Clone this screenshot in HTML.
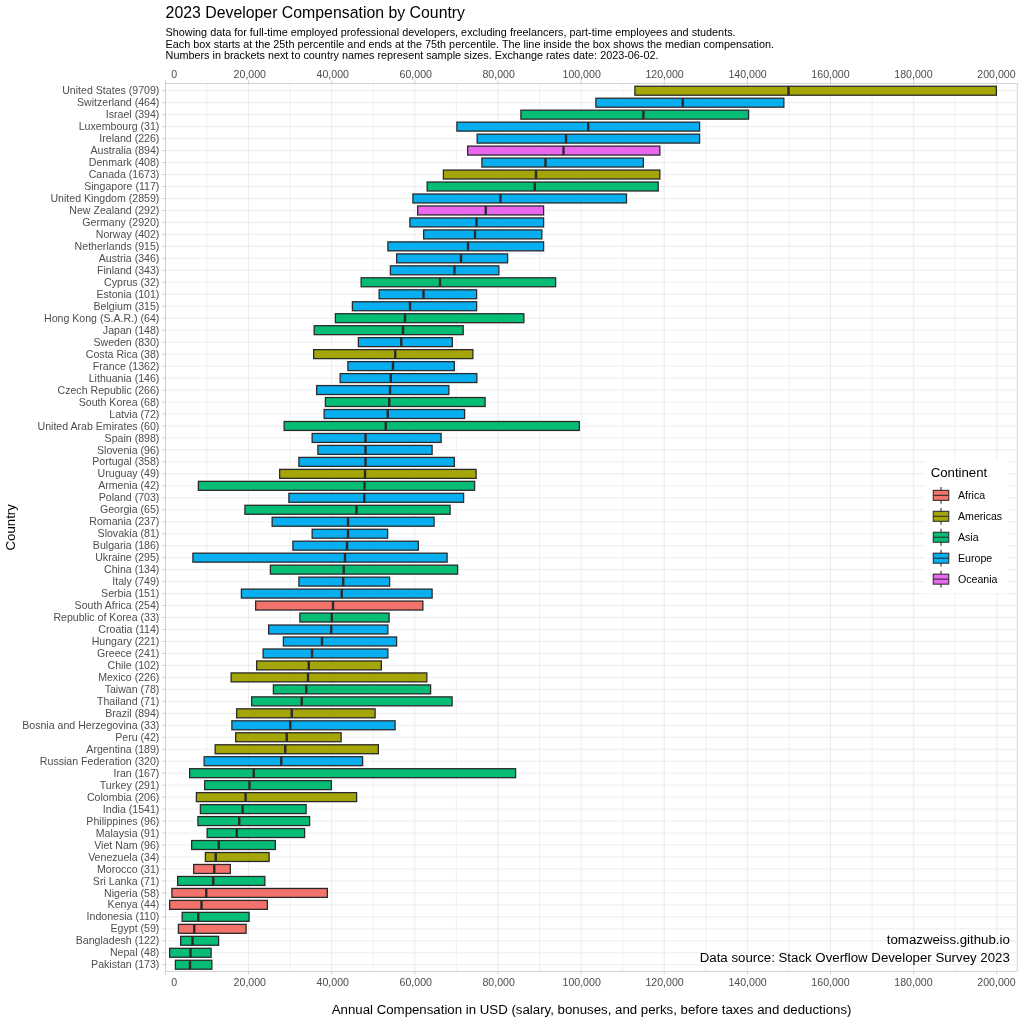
<!DOCTYPE html>
<html lang="en"><head><meta charset="utf-8"><title>2023 Developer Compensation by Country</title>
<style>html,body{margin:0;padding:0;background:#fff}body{width:1024px;height:1024px;overflow:hidden}svg{display:block}text{font-family:"Liberation Sans",sans-serif}.ax{font-size:10.6px;fill:#4d4d4d}.yl{text-anchor:end}.xl{text-anchor:middle}.sub{font-size:10.84px;fill:#000}.cap{font-size:13.25px;fill:#000;text-anchor:end}.lg{font-size:10.6px;fill:#000}.gM{stroke:#e1e1e1;stroke-width:.6}.gm{stroke:#e3e3e3;stroke-width:.5}.tk{stroke:#b3b3b3;stroke-width:.6}.bx{stroke:#2a2a2a;stroke-width:1.3}.md{stroke:#2a2a2a;stroke-width:2.4}.lk{stroke:#2a2a2a;stroke-width:1.05}</style></head><body>
<svg width="1024" height="1024" viewBox="0 0 1024 1024">
<rect width="1024" height="1024" fill="#fff"/>
<text x="165.6" y="18.2" font-size="15.85" fill="#000">2023 Developer Compensation by Country</text>
<text class="sub" x="165.6" y="35.90">Showing data for full-time employed professional developers, excluding freelancers, part-time employees and students.</text>
<text class="sub" x="165.6" y="47.60">Each box starts at the 25th percentile and ends at the 75th percentile. The line inside the box shows the median compensation.</text>
<text class="sub" x="165.6" y="59.30">Numbers in brackets next to country names represent sample sizes. Exchange rates date: 2023-06-02.</text>
<g>
<line class="gm" x1="206.97" x2="206.97" y1="83.55" y2="971.35"/>
<line class="gM" x1="248.54" x2="248.54" y1="83.55" y2="971.35"/>
<line class="gm" x1="290.11" x2="290.11" y1="83.55" y2="971.35"/>
<line class="gM" x1="331.68" x2="331.68" y1="83.55" y2="971.35"/>
<line class="gm" x1="373.25" x2="373.25" y1="83.55" y2="971.35"/>
<line class="gM" x1="414.82" x2="414.82" y1="83.55" y2="971.35"/>
<line class="gm" x1="456.39" x2="456.39" y1="83.55" y2="971.35"/>
<line class="gM" x1="497.96" x2="497.96" y1="83.55" y2="971.35"/>
<line class="gm" x1="539.53" x2="539.53" y1="83.55" y2="971.35"/>
<line class="gM" x1="581.10" x2="581.10" y1="83.55" y2="971.35"/>
<line class="gm" x1="622.67" x2="622.67" y1="83.55" y2="971.35"/>
<line class="gM" x1="664.24" x2="664.24" y1="83.55" y2="971.35"/>
<line class="gm" x1="705.81" x2="705.81" y1="83.55" y2="971.35"/>
<line class="gM" x1="747.38" x2="747.38" y1="83.55" y2="971.35"/>
<line class="gm" x1="788.95" x2="788.95" y1="83.55" y2="971.35"/>
<line class="gM" x1="830.52" x2="830.52" y1="83.55" y2="971.35"/>
<line class="gm" x1="872.09" x2="872.09" y1="83.55" y2="971.35"/>
<line class="gM" x1="913.66" x2="913.66" y1="83.55" y2="971.35"/>
<line class="gm" x1="955.23" x2="955.23" y1="83.55" y2="971.35"/>
<line class="gM" x1="996.80" x2="996.80" y1="83.55" y2="971.35"/>
<line class="gM" x1="165.5" x2="1017.25" y1="90.72" y2="90.72"/>
<line class="gM" x1="165.5" x2="1017.25" y1="102.69" y2="102.69"/>
<line class="gM" x1="165.5" x2="1017.25" y1="114.67" y2="114.67"/>
<line class="gM" x1="165.5" x2="1017.25" y1="126.64" y2="126.64"/>
<line class="gM" x1="165.5" x2="1017.25" y1="138.61" y2="138.61"/>
<line class="gM" x1="165.5" x2="1017.25" y1="150.59" y2="150.59"/>
<line class="gM" x1="165.5" x2="1017.25" y1="162.56" y2="162.56"/>
<line class="gM" x1="165.5" x2="1017.25" y1="174.53" y2="174.53"/>
<line class="gM" x1="165.5" x2="1017.25" y1="186.50" y2="186.50"/>
<line class="gM" x1="165.5" x2="1017.25" y1="198.48" y2="198.48"/>
<line class="gM" x1="165.5" x2="1017.25" y1="210.45" y2="210.45"/>
<line class="gM" x1="165.5" x2="1017.25" y1="222.42" y2="222.42"/>
<line class="gM" x1="165.5" x2="1017.25" y1="234.40" y2="234.40"/>
<line class="gM" x1="165.5" x2="1017.25" y1="246.37" y2="246.37"/>
<line class="gM" x1="165.5" x2="1017.25" y1="258.34" y2="258.34"/>
<line class="gM" x1="165.5" x2="1017.25" y1="270.31" y2="270.31"/>
<line class="gM" x1="165.5" x2="1017.25" y1="282.29" y2="282.29"/>
<line class="gM" x1="165.5" x2="1017.25" y1="294.26" y2="294.26"/>
<line class="gM" x1="165.5" x2="1017.25" y1="306.23" y2="306.23"/>
<line class="gM" x1="165.5" x2="1017.25" y1="318.21" y2="318.21"/>
<line class="gM" x1="165.5" x2="1017.25" y1="330.18" y2="330.18"/>
<line class="gM" x1="165.5" x2="1017.25" y1="342.15" y2="342.15"/>
<line class="gM" x1="165.5" x2="1017.25" y1="354.13" y2="354.13"/>
<line class="gM" x1="165.5" x2="1017.25" y1="366.10" y2="366.10"/>
<line class="gM" x1="165.5" x2="1017.25" y1="378.07" y2="378.07"/>
<line class="gM" x1="165.5" x2="1017.25" y1="390.05" y2="390.05"/>
<line class="gM" x1="165.5" x2="1017.25" y1="402.02" y2="402.02"/>
<line class="gM" x1="165.5" x2="1017.25" y1="413.99" y2="413.99"/>
<line class="gM" x1="165.5" x2="1017.25" y1="425.96" y2="425.96"/>
<line class="gM" x1="165.5" x2="1017.25" y1="437.94" y2="437.94"/>
<line class="gM" x1="165.5" x2="1017.25" y1="449.91" y2="449.91"/>
<line class="gM" x1="165.5" x2="1017.25" y1="461.88" y2="461.88"/>
<line class="gM" x1="165.5" x2="1017.25" y1="473.86" y2="473.86"/>
<line class="gM" x1="165.5" x2="1017.25" y1="485.83" y2="485.83"/>
<line class="gM" x1="165.5" x2="1017.25" y1="497.80" y2="497.80"/>
<line class="gM" x1="165.5" x2="1017.25" y1="509.77" y2="509.77"/>
<line class="gM" x1="165.5" x2="1017.25" y1="521.75" y2="521.75"/>
<line class="gM" x1="165.5" x2="1017.25" y1="533.72" y2="533.72"/>
<line class="gM" x1="165.5" x2="1017.25" y1="545.69" y2="545.69"/>
<line class="gM" x1="165.5" x2="1017.25" y1="557.67" y2="557.67"/>
<line class="gM" x1="165.5" x2="1017.25" y1="569.64" y2="569.64"/>
<line class="gM" x1="165.5" x2="1017.25" y1="581.61" y2="581.61"/>
<line class="gM" x1="165.5" x2="1017.25" y1="593.59" y2="593.59"/>
<line class="gM" x1="165.5" x2="1017.25" y1="605.56" y2="605.56"/>
<line class="gM" x1="165.5" x2="1017.25" y1="617.53" y2="617.53"/>
<line class="gM" x1="165.5" x2="1017.25" y1="629.51" y2="629.51"/>
<line class="gM" x1="165.5" x2="1017.25" y1="641.48" y2="641.48"/>
<line class="gM" x1="165.5" x2="1017.25" y1="653.45" y2="653.45"/>
<line class="gM" x1="165.5" x2="1017.25" y1="665.42" y2="665.42"/>
<line class="gM" x1="165.5" x2="1017.25" y1="677.40" y2="677.40"/>
<line class="gM" x1="165.5" x2="1017.25" y1="689.37" y2="689.37"/>
<line class="gM" x1="165.5" x2="1017.25" y1="701.34" y2="701.34"/>
<line class="gM" x1="165.5" x2="1017.25" y1="713.32" y2="713.32"/>
<line class="gM" x1="165.5" x2="1017.25" y1="725.29" y2="725.29"/>
<line class="gM" x1="165.5" x2="1017.25" y1="737.26" y2="737.26"/>
<line class="gM" x1="165.5" x2="1017.25" y1="749.24" y2="749.24"/>
<line class="gM" x1="165.5" x2="1017.25" y1="761.21" y2="761.21"/>
<line class="gM" x1="165.5" x2="1017.25" y1="773.18" y2="773.18"/>
<line class="gM" x1="165.5" x2="1017.25" y1="785.15" y2="785.15"/>
<line class="gM" x1="165.5" x2="1017.25" y1="797.13" y2="797.13"/>
<line class="gM" x1="165.5" x2="1017.25" y1="809.10" y2="809.10"/>
<line class="gM" x1="165.5" x2="1017.25" y1="821.07" y2="821.07"/>
<line class="gM" x1="165.5" x2="1017.25" y1="833.05" y2="833.05"/>
<line class="gM" x1="165.5" x2="1017.25" y1="845.02" y2="845.02"/>
<line class="gM" x1="165.5" x2="1017.25" y1="856.99" y2="856.99"/>
<line class="gM" x1="165.5" x2="1017.25" y1="868.97" y2="868.97"/>
<line class="gM" x1="165.5" x2="1017.25" y1="880.94" y2="880.94"/>
<line class="gM" x1="165.5" x2="1017.25" y1="892.91" y2="892.91"/>
<line class="gM" x1="165.5" x2="1017.25" y1="904.88" y2="904.88"/>
<line class="gM" x1="165.5" x2="1017.25" y1="916.86" y2="916.86"/>
<line class="gM" x1="165.5" x2="1017.25" y1="928.83" y2="928.83"/>
<line class="gM" x1="165.5" x2="1017.25" y1="940.80" y2="940.80"/>
<line class="gM" x1="165.5" x2="1017.25" y1="952.78" y2="952.78"/>
<line class="gM" x1="165.5" x2="1017.25" y1="964.75" y2="964.75"/>
</g>
<g>
<rect class="bx" x="634.90" y="86.25" width="361.45" height="8.95" fill="#A3A606"/>
<line class="md" x1="788.50" x2="788.50" y1="86.25" y2="95.19"/>
<rect class="bx" x="595.90" y="98.22" width="187.95" height="8.95" fill="#08AFF0"/>
<line class="md" x1="682.75" x2="682.75" y1="98.22" y2="107.17"/>
<rect class="bx" x="520.90" y="110.19" width="227.70" height="8.95" fill="#06BD76"/>
<line class="md" x1="643.40" x2="643.40" y1="110.19" y2="119.14"/>
<rect class="bx" x="456.90" y="122.16" width="242.70" height="8.95" fill="#08AFF0"/>
<line class="md" x1="588.25" x2="588.25" y1="122.16" y2="131.11"/>
<rect class="bx" x="477.15" y="134.14" width="222.45" height="8.95" fill="#08AFF0"/>
<line class="md" x1="566.00" x2="566.00" y1="134.14" y2="143.09"/>
<rect class="bx" x="467.65" y="146.11" width="192.20" height="8.95" fill="#EA67EF"/>
<line class="md" x1="563.50" x2="563.50" y1="146.11" y2="155.06"/>
<rect class="bx" x="481.90" y="158.08" width="161.45" height="8.95" fill="#08AFF0"/>
<line class="md" x1="545.50" x2="545.50" y1="158.08" y2="167.03"/>
<rect class="bx" x="443.40" y="170.06" width="216.45" height="8.95" fill="#A3A606"/>
<line class="md" x1="536.00" x2="536.00" y1="170.06" y2="179.01"/>
<rect class="bx" x="427.15" y="182.03" width="231.05" height="8.95" fill="#06BD76"/>
<line class="md" x1="534.75" x2="534.75" y1="182.03" y2="190.98"/>
<rect class="bx" x="412.90" y="194.00" width="213.60" height="8.95" fill="#08AFF0"/>
<line class="md" x1="500.50" x2="500.50" y1="194.00" y2="202.95"/>
<rect class="bx" x="417.65" y="205.97" width="125.95" height="8.95" fill="#EA67EF"/>
<line class="md" x1="485.75" x2="485.75" y1="205.97" y2="214.92"/>
<rect class="bx" x="409.90" y="217.95" width="133.70" height="8.95" fill="#08AFF0"/>
<line class="md" x1="476.50" x2="476.50" y1="217.95" y2="226.90"/>
<rect class="bx" x="423.65" y="229.92" width="118.20" height="8.95" fill="#08AFF0"/>
<line class="md" x1="475.00" x2="475.00" y1="229.92" y2="238.87"/>
<rect class="bx" x="387.90" y="241.89" width="155.70" height="8.95" fill="#08AFF0"/>
<line class="md" x1="468.00" x2="468.00" y1="241.89" y2="250.84"/>
<rect class="bx" x="396.65" y="253.87" width="110.95" height="8.95" fill="#08AFF0"/>
<line class="md" x1="461.00" x2="461.00" y1="253.87" y2="262.82"/>
<rect class="bx" x="390.40" y="265.84" width="108.45" height="8.95" fill="#08AFF0"/>
<line class="md" x1="454.50" x2="454.50" y1="265.84" y2="274.79"/>
<rect class="bx" x="361.15" y="277.81" width="194.45" height="8.95" fill="#06BD76"/>
<line class="md" x1="440.00" x2="440.00" y1="277.81" y2="286.76"/>
<rect class="bx" x="379.15" y="289.79" width="97.45" height="8.95" fill="#08AFF0"/>
<line class="md" x1="423.50" x2="423.50" y1="289.79" y2="298.74"/>
<rect class="bx" x="352.40" y="301.76" width="124.20" height="8.95" fill="#08AFF0"/>
<line class="md" x1="410.00" x2="410.00" y1="301.76" y2="310.71"/>
<rect class="bx" x="335.40" y="313.73" width="188.45" height="8.95" fill="#06BD76"/>
<line class="md" x1="405.00" x2="405.00" y1="313.73" y2="322.68"/>
<rect class="bx" x="314.15" y="325.70" width="149.05" height="8.95" fill="#06BD76"/>
<line class="md" x1="403.00" x2="403.00" y1="325.70" y2="334.66"/>
<rect class="bx" x="358.40" y="337.68" width="93.95" height="8.95" fill="#08AFF0"/>
<line class="md" x1="401.25" x2="401.25" y1="337.68" y2="346.63"/>
<rect class="bx" x="313.65" y="349.65" width="159.20" height="8.95" fill="#A3A606"/>
<line class="md" x1="395.25" x2="395.25" y1="349.65" y2="358.60"/>
<rect class="bx" x="347.90" y="361.62" width="106.45" height="8.95" fill="#08AFF0"/>
<line class="md" x1="393.00" x2="393.00" y1="361.62" y2="370.57"/>
<rect class="bx" x="340.15" y="373.60" width="136.70" height="8.95" fill="#08AFF0"/>
<line class="md" x1="390.75" x2="390.75" y1="373.60" y2="382.55"/>
<rect class="bx" x="316.65" y="385.57" width="132.20" height="8.95" fill="#08AFF0"/>
<line class="md" x1="390.00" x2="390.00" y1="385.57" y2="394.52"/>
<rect class="bx" x="325.40" y="397.54" width="159.70" height="8.95" fill="#06BD76"/>
<line class="md" x1="389.25" x2="389.25" y1="397.54" y2="406.49"/>
<rect class="bx" x="324.15" y="409.52" width="140.45" height="8.95" fill="#08AFF0"/>
<line class="md" x1="387.75" x2="387.75" y1="409.52" y2="418.47"/>
<rect class="bx" x="284.15" y="421.49" width="295.20" height="8.95" fill="#06BD76"/>
<line class="md" x1="385.75" x2="385.75" y1="421.49" y2="430.44"/>
<rect class="bx" x="312.15" y="433.46" width="128.95" height="8.95" fill="#08AFF0"/>
<line class="md" x1="365.50" x2="365.50" y1="433.46" y2="442.41"/>
<rect class="bx" x="317.90" y="445.43" width="114.20" height="8.95" fill="#08AFF0"/>
<line class="md" x1="365.50" x2="365.50" y1="445.43" y2="454.38"/>
<rect class="bx" x="298.90" y="457.41" width="155.45" height="8.95" fill="#08AFF0"/>
<line class="md" x1="365.50" x2="365.50" y1="457.41" y2="466.36"/>
<rect class="bx" x="279.65" y="469.38" width="196.45" height="8.95" fill="#A3A606"/>
<line class="md" x1="365.00" x2="365.00" y1="469.38" y2="478.33"/>
<rect class="bx" x="198.40" y="481.35" width="276.20" height="8.95" fill="#06BD76"/>
<line class="md" x1="364.50" x2="364.50" y1="481.35" y2="490.30"/>
<rect class="bx" x="288.90" y="493.33" width="174.70" height="8.95" fill="#08AFF0"/>
<line class="md" x1="364.25" x2="364.25" y1="493.33" y2="502.28"/>
<rect class="bx" x="244.90" y="505.30" width="205.20" height="8.95" fill="#06BD76"/>
<line class="md" x1="356.50" x2="356.50" y1="505.30" y2="514.25"/>
<rect class="bx" x="272.15" y="517.27" width="161.95" height="8.95" fill="#08AFF0"/>
<line class="md" x1="348.00" x2="348.00" y1="517.27" y2="526.22"/>
<rect class="bx" x="312.15" y="529.25" width="75.45" height="8.95" fill="#08AFF0"/>
<line class="md" x1="348.00" x2="348.00" y1="529.25" y2="538.20"/>
<rect class="bx" x="292.90" y="541.22" width="125.45" height="8.95" fill="#08AFF0"/>
<line class="md" x1="347.00" x2="347.00" y1="541.22" y2="550.17"/>
<rect class="bx" x="192.90" y="553.19" width="254.20" height="8.95" fill="#08AFF0"/>
<line class="md" x1="345.00" x2="345.00" y1="553.19" y2="562.14"/>
<rect class="bx" x="270.40" y="565.16" width="187.20" height="8.95" fill="#06BD76"/>
<line class="md" x1="343.75" x2="343.75" y1="565.16" y2="574.12"/>
<rect class="bx" x="298.90" y="577.14" width="90.70" height="8.95" fill="#08AFF0"/>
<line class="md" x1="343.25" x2="343.25" y1="577.14" y2="586.09"/>
<rect class="bx" x="241.40" y="589.11" width="190.70" height="8.95" fill="#08AFF0"/>
<line class="md" x1="341.75" x2="341.75" y1="589.11" y2="598.06"/>
<rect class="bx" x="255.65" y="601.08" width="167.20" height="8.95" fill="#F4726C"/>
<line class="md" x1="333.00" x2="333.00" y1="601.08" y2="610.03"/>
<rect class="bx" x="299.90" y="613.06" width="89.20" height="8.95" fill="#06BD76"/>
<line class="md" x1="331.75" x2="331.75" y1="613.06" y2="622.01"/>
<rect class="bx" x="268.65" y="625.03" width="119.20" height="8.95" fill="#08AFF0"/>
<line class="md" x1="331.25" x2="331.25" y1="625.03" y2="633.98"/>
<rect class="bx" x="283.40" y="637.00" width="113.20" height="8.95" fill="#08AFF0"/>
<line class="md" x1="322.00" x2="322.00" y1="637.00" y2="645.95"/>
<rect class="bx" x="263.15" y="648.98" width="124.70" height="8.95" fill="#08AFF0"/>
<line class="md" x1="312.00" x2="312.00" y1="648.98" y2="657.93"/>
<rect class="bx" x="256.65" y="660.95" width="124.70" height="8.95" fill="#A3A606"/>
<line class="md" x1="308.75" x2="308.75" y1="660.95" y2="669.90"/>
<rect class="bx" x="231.15" y="672.92" width="195.70" height="8.95" fill="#A3A606"/>
<line class="md" x1="308.00" x2="308.00" y1="672.92" y2="681.87"/>
<rect class="bx" x="273.40" y="684.90" width="157.20" height="8.95" fill="#06BD76"/>
<line class="md" x1="306.25" x2="306.25" y1="684.90" y2="693.85"/>
<rect class="bx" x="251.65" y="696.87" width="200.45" height="8.95" fill="#06BD76"/>
<line class="md" x1="301.75" x2="301.75" y1="696.87" y2="705.82"/>
<rect class="bx" x="236.65" y="708.84" width="138.45" height="8.95" fill="#A3A606"/>
<line class="md" x1="291.75" x2="291.75" y1="708.84" y2="717.79"/>
<rect class="bx" x="231.90" y="720.81" width="163.20" height="8.95" fill="#08AFF0"/>
<line class="md" x1="290.25" x2="290.25" y1="720.81" y2="729.76"/>
<rect class="bx" x="235.65" y="732.79" width="105.45" height="8.95" fill="#A3A606"/>
<line class="md" x1="286.75" x2="286.75" y1="732.79" y2="741.74"/>
<rect class="bx" x="215.15" y="744.76" width="163.20" height="8.95" fill="#A3A606"/>
<line class="md" x1="285.25" x2="285.25" y1="744.76" y2="753.71"/>
<rect class="bx" x="204.15" y="756.73" width="158.45" height="8.95" fill="#08AFF0"/>
<line class="md" x1="281.25" x2="281.25" y1="756.73" y2="765.68"/>
<rect class="bx" x="189.65" y="768.71" width="325.95" height="8.95" fill="#06BD76"/>
<line class="md" x1="253.75" x2="253.75" y1="768.71" y2="777.66"/>
<rect class="bx" x="204.65" y="780.68" width="126.70" height="8.95" fill="#06BD76"/>
<line class="md" x1="249.50" x2="249.50" y1="780.68" y2="789.63"/>
<rect class="bx" x="196.40" y="792.65" width="160.20" height="8.95" fill="#A3A606"/>
<line class="md" x1="245.60" x2="245.60" y1="792.65" y2="801.60"/>
<rect class="bx" x="200.40" y="804.62" width="105.70" height="8.95" fill="#06BD76"/>
<line class="md" x1="242.60" x2="242.60" y1="804.62" y2="813.58"/>
<rect class="bx" x="197.90" y="816.60" width="111.70" height="8.95" fill="#06BD76"/>
<line class="md" x1="239.25" x2="239.25" y1="816.60" y2="825.55"/>
<rect class="bx" x="207.15" y="828.57" width="97.45" height="8.95" fill="#06BD76"/>
<line class="md" x1="236.75" x2="236.75" y1="828.57" y2="837.52"/>
<rect class="bx" x="191.65" y="840.54" width="83.70" height="8.95" fill="#06BD76"/>
<line class="md" x1="218.75" x2="218.75" y1="840.54" y2="849.49"/>
<rect class="bx" x="205.40" y="852.52" width="63.70" height="8.95" fill="#A3A606"/>
<line class="md" x1="215.75" x2="215.75" y1="852.52" y2="861.47"/>
<rect class="bx" x="193.65" y="864.49" width="36.70" height="8.95" fill="#F4726C"/>
<line class="md" x1="214.25" x2="214.25" y1="864.49" y2="873.44"/>
<rect class="bx" x="177.65" y="876.46" width="87.20" height="8.95" fill="#06BD76"/>
<line class="md" x1="213.25" x2="213.25" y1="876.46" y2="885.41"/>
<rect class="bx" x="171.90" y="888.44" width="155.45" height="8.95" fill="#F4726C"/>
<line class="md" x1="206.25" x2="206.25" y1="888.44" y2="897.39"/>
<rect class="bx" x="169.65" y="900.41" width="97.70" height="8.95" fill="#F4726C"/>
<line class="md" x1="201.50" x2="201.50" y1="900.41" y2="909.36"/>
<rect class="bx" x="182.15" y="912.38" width="66.95" height="8.95" fill="#06BD76"/>
<line class="md" x1="198.25" x2="198.25" y1="912.38" y2="921.33"/>
<rect class="bx" x="178.40" y="924.36" width="67.70" height="8.95" fill="#F4726C"/>
<line class="md" x1="194.25" x2="194.25" y1="924.36" y2="933.31"/>
<rect class="bx" x="180.65" y="936.33" width="37.95" height="8.95" fill="#06BD76"/>
<line class="md" x1="192.50" x2="192.50" y1="936.33" y2="945.28"/>
<rect class="bx" x="169.65" y="948.30" width="41.45" height="8.95" fill="#06BD76"/>
<line class="md" x1="190.50" x2="190.50" y1="948.30" y2="957.25"/>
<rect class="bx" x="175.40" y="960.27" width="36.45" height="8.95" fill="#06BD76"/>
<line class="md" x1="190.00" x2="190.00" y1="960.27" y2="969.22"/>
</g>
<rect x="924" y="461" width="84" height="132.5" fill="#fff"/>
<text x="930.7" y="477.2" font-size="13.2" fill="#000">Continent</text>
<line class="lk" x1="941.0" x2="941.0" y1="486.95" y2="503.75"/>
<rect class="lk" x="933.25" y="490.35" width="15.5" height="10.0" fill="#F4726C"/>
<line class="lk" x1="933.25" x2="948.75" y1="495.35" y2="495.35"/>
<text class="lg" x="958" y="499.00">Africa</text>
<line class="lk" x1="941.0" x2="941.0" y1="507.90" y2="524.70"/>
<rect class="lk" x="933.25" y="511.30" width="15.5" height="10.0" fill="#A3A606"/>
<line class="lk" x1="933.25" x2="948.75" y1="516.30" y2="516.30"/>
<text class="lg" x="958" y="519.95">Americas</text>
<line class="lk" x1="941.0" x2="941.0" y1="528.85" y2="545.65"/>
<rect class="lk" x="933.25" y="532.25" width="15.5" height="10.0" fill="#06BD76"/>
<line class="lk" x1="933.25" x2="948.75" y1="537.25" y2="537.25"/>
<text class="lg" x="958" y="540.90">Asia</text>
<line class="lk" x1="941.0" x2="941.0" y1="549.80" y2="566.60"/>
<rect class="lk" x="933.25" y="553.20" width="15.5" height="10.0" fill="#08AFF0"/>
<line class="lk" x1="933.25" x2="948.75" y1="558.20" y2="558.20"/>
<text class="lg" x="958" y="561.85">Europe</text>
<line class="lk" x1="941.0" x2="941.0" y1="570.75" y2="587.55"/>
<rect class="lk" x="933.25" y="574.15" width="15.5" height="10.0" fill="#EA67EF"/>
<line class="lk" x1="933.25" x2="948.75" y1="579.15" y2="579.15"/>
<text class="lg" x="958" y="582.80">Oceania</text>
<text class="cap" x="1009.8" y="943.6">tomazweiss.github.io</text>
<text class="cap" x="1009.8" y="961.6">Data source: Stack Overflow Developer Survey 2023</text>
<rect x="165.5" y="83.55" width="851.75" height="887.8000000000001" fill="none" stroke="#c8c8c8" stroke-width="0.8"/>
<g>
<line class="tk" x1="162.2" x2="165.5" y1="90.72" y2="90.72"/>
<text class="ax yl" x="159.4" y="94.32">United States (9709)</text>
<line class="tk" x1="162.2" x2="165.5" y1="102.69" y2="102.69"/>
<text class="ax yl" x="159.4" y="106.29">Switzerland (464)</text>
<line class="tk" x1="162.2" x2="165.5" y1="114.67" y2="114.67"/>
<text class="ax yl" x="159.4" y="118.27">Israel (394)</text>
<line class="tk" x1="162.2" x2="165.5" y1="126.64" y2="126.64"/>
<text class="ax yl" x="159.4" y="130.24">Luxembourg (31)</text>
<line class="tk" x1="162.2" x2="165.5" y1="138.61" y2="138.61"/>
<text class="ax yl" x="159.4" y="142.21">Ireland (226)</text>
<line class="tk" x1="162.2" x2="165.5" y1="150.59" y2="150.59"/>
<text class="ax yl" x="159.4" y="154.19">Australia (894)</text>
<line class="tk" x1="162.2" x2="165.5" y1="162.56" y2="162.56"/>
<text class="ax yl" x="159.4" y="166.16">Denmark (408)</text>
<line class="tk" x1="162.2" x2="165.5" y1="174.53" y2="174.53"/>
<text class="ax yl" x="159.4" y="178.13">Canada (1673)</text>
<line class="tk" x1="162.2" x2="165.5" y1="186.50" y2="186.50"/>
<text class="ax yl" x="159.4" y="190.10">Singapore (117)</text>
<line class="tk" x1="162.2" x2="165.5" y1="198.48" y2="198.48"/>
<text class="ax yl" x="159.4" y="202.08">United Kingdom (2859)</text>
<line class="tk" x1="162.2" x2="165.5" y1="210.45" y2="210.45"/>
<text class="ax yl" x="159.4" y="214.05">New Zealand (292)</text>
<line class="tk" x1="162.2" x2="165.5" y1="222.42" y2="222.42"/>
<text class="ax yl" x="159.4" y="226.02">Germany (2920)</text>
<line class="tk" x1="162.2" x2="165.5" y1="234.40" y2="234.40"/>
<text class="ax yl" x="159.4" y="238.00">Norway (402)</text>
<line class="tk" x1="162.2" x2="165.5" y1="246.37" y2="246.37"/>
<text class="ax yl" x="159.4" y="249.97">Netherlands (915)</text>
<line class="tk" x1="162.2" x2="165.5" y1="258.34" y2="258.34"/>
<text class="ax yl" x="159.4" y="261.94">Austria (346)</text>
<line class="tk" x1="162.2" x2="165.5" y1="270.31" y2="270.31"/>
<text class="ax yl" x="159.4" y="273.92">Finland (343)</text>
<line class="tk" x1="162.2" x2="165.5" y1="282.29" y2="282.29"/>
<text class="ax yl" x="159.4" y="285.89">Cyprus (32)</text>
<line class="tk" x1="162.2" x2="165.5" y1="294.26" y2="294.26"/>
<text class="ax yl" x="159.4" y="297.86">Estonia (101)</text>
<line class="tk" x1="162.2" x2="165.5" y1="306.23" y2="306.23"/>
<text class="ax yl" x="159.4" y="309.83">Belgium (315)</text>
<line class="tk" x1="162.2" x2="165.5" y1="318.21" y2="318.21"/>
<text class="ax yl" x="159.4" y="321.81">Hong Kong (S.A.R.) (64)</text>
<line class="tk" x1="162.2" x2="165.5" y1="330.18" y2="330.18"/>
<text class="ax yl" x="159.4" y="333.78">Japan (148)</text>
<line class="tk" x1="162.2" x2="165.5" y1="342.15" y2="342.15"/>
<text class="ax yl" x="159.4" y="345.75">Sweden (830)</text>
<line class="tk" x1="162.2" x2="165.5" y1="354.13" y2="354.13"/>
<text class="ax yl" x="159.4" y="357.73">Costa Rica (38)</text>
<line class="tk" x1="162.2" x2="165.5" y1="366.10" y2="366.10"/>
<text class="ax yl" x="159.4" y="369.70">France (1362)</text>
<line class="tk" x1="162.2" x2="165.5" y1="378.07" y2="378.07"/>
<text class="ax yl" x="159.4" y="381.67">Lithuania (146)</text>
<line class="tk" x1="162.2" x2="165.5" y1="390.05" y2="390.05"/>
<text class="ax yl" x="159.4" y="393.65">Czech Republic (266)</text>
<line class="tk" x1="162.2" x2="165.5" y1="402.02" y2="402.02"/>
<text class="ax yl" x="159.4" y="405.62">South Korea (68)</text>
<line class="tk" x1="162.2" x2="165.5" y1="413.99" y2="413.99"/>
<text class="ax yl" x="159.4" y="417.59">Latvia (72)</text>
<line class="tk" x1="162.2" x2="165.5" y1="425.96" y2="425.96"/>
<text class="ax yl" x="159.4" y="429.56">United Arab Emirates (60)</text>
<line class="tk" x1="162.2" x2="165.5" y1="437.94" y2="437.94"/>
<text class="ax yl" x="159.4" y="441.54">Spain (898)</text>
<line class="tk" x1="162.2" x2="165.5" y1="449.91" y2="449.91"/>
<text class="ax yl" x="159.4" y="453.51">Slovenia (96)</text>
<line class="tk" x1="162.2" x2="165.5" y1="461.88" y2="461.88"/>
<text class="ax yl" x="159.4" y="465.48">Portugal (358)</text>
<line class="tk" x1="162.2" x2="165.5" y1="473.86" y2="473.86"/>
<text class="ax yl" x="159.4" y="477.46">Uruguay (49)</text>
<line class="tk" x1="162.2" x2="165.5" y1="485.83" y2="485.83"/>
<text class="ax yl" x="159.4" y="489.43">Armenia (42)</text>
<line class="tk" x1="162.2" x2="165.5" y1="497.80" y2="497.80"/>
<text class="ax yl" x="159.4" y="501.40">Poland (703)</text>
<line class="tk" x1="162.2" x2="165.5" y1="509.77" y2="509.77"/>
<text class="ax yl" x="159.4" y="513.38">Georgia (65)</text>
<line class="tk" x1="162.2" x2="165.5" y1="521.75" y2="521.75"/>
<text class="ax yl" x="159.4" y="525.35">Romania (237)</text>
<line class="tk" x1="162.2" x2="165.5" y1="533.72" y2="533.72"/>
<text class="ax yl" x="159.4" y="537.32">Slovakia (81)</text>
<line class="tk" x1="162.2" x2="165.5" y1="545.69" y2="545.69"/>
<text class="ax yl" x="159.4" y="549.29">Bulgaria (186)</text>
<line class="tk" x1="162.2" x2="165.5" y1="557.67" y2="557.67"/>
<text class="ax yl" x="159.4" y="561.27">Ukraine (295)</text>
<line class="tk" x1="162.2" x2="165.5" y1="569.64" y2="569.64"/>
<text class="ax yl" x="159.4" y="573.24">China (134)</text>
<line class="tk" x1="162.2" x2="165.5" y1="581.61" y2="581.61"/>
<text class="ax yl" x="159.4" y="585.21">Italy (749)</text>
<line class="tk" x1="162.2" x2="165.5" y1="593.59" y2="593.59"/>
<text class="ax yl" x="159.4" y="597.19">Serbia (151)</text>
<line class="tk" x1="162.2" x2="165.5" y1="605.56" y2="605.56"/>
<text class="ax yl" x="159.4" y="609.16">South Africa (254)</text>
<line class="tk" x1="162.2" x2="165.5" y1="617.53" y2="617.53"/>
<text class="ax yl" x="159.4" y="621.13">Republic of Korea (33)</text>
<line class="tk" x1="162.2" x2="165.5" y1="629.51" y2="629.51"/>
<text class="ax yl" x="159.4" y="633.11">Croatia (114)</text>
<line class="tk" x1="162.2" x2="165.5" y1="641.48" y2="641.48"/>
<text class="ax yl" x="159.4" y="645.08">Hungary (221)</text>
<line class="tk" x1="162.2" x2="165.5" y1="653.45" y2="653.45"/>
<text class="ax yl" x="159.4" y="657.05">Greece (241)</text>
<line class="tk" x1="162.2" x2="165.5" y1="665.42" y2="665.42"/>
<text class="ax yl" x="159.4" y="669.02">Chile (102)</text>
<line class="tk" x1="162.2" x2="165.5" y1="677.40" y2="677.40"/>
<text class="ax yl" x="159.4" y="681.00">Mexico (226)</text>
<line class="tk" x1="162.2" x2="165.5" y1="689.37" y2="689.37"/>
<text class="ax yl" x="159.4" y="692.97">Taiwan (78)</text>
<line class="tk" x1="162.2" x2="165.5" y1="701.34" y2="701.34"/>
<text class="ax yl" x="159.4" y="704.94">Thailand (71)</text>
<line class="tk" x1="162.2" x2="165.5" y1="713.32" y2="713.32"/>
<text class="ax yl" x="159.4" y="716.92">Brazil (894)</text>
<line class="tk" x1="162.2" x2="165.5" y1="725.29" y2="725.29"/>
<text class="ax yl" x="159.4" y="728.89">Bosnia and Herzegovina (33)</text>
<line class="tk" x1="162.2" x2="165.5" y1="737.26" y2="737.26"/>
<text class="ax yl" x="159.4" y="740.86">Peru (42)</text>
<line class="tk" x1="162.2" x2="165.5" y1="749.24" y2="749.24"/>
<text class="ax yl" x="159.4" y="752.84">Argentina (189)</text>
<line class="tk" x1="162.2" x2="165.5" y1="761.21" y2="761.21"/>
<text class="ax yl" x="159.4" y="764.81">Russian Federation (320)</text>
<line class="tk" x1="162.2" x2="165.5" y1="773.18" y2="773.18"/>
<text class="ax yl" x="159.4" y="776.78">Iran (167)</text>
<line class="tk" x1="162.2" x2="165.5" y1="785.15" y2="785.15"/>
<text class="ax yl" x="159.4" y="788.75">Turkey (291)</text>
<line class="tk" x1="162.2" x2="165.5" y1="797.13" y2="797.13"/>
<text class="ax yl" x="159.4" y="800.73">Colombia (206)</text>
<line class="tk" x1="162.2" x2="165.5" y1="809.10" y2="809.10"/>
<text class="ax yl" x="159.4" y="812.70">India (1541)</text>
<line class="tk" x1="162.2" x2="165.5" y1="821.07" y2="821.07"/>
<text class="ax yl" x="159.4" y="824.67">Philippines (96)</text>
<line class="tk" x1="162.2" x2="165.5" y1="833.05" y2="833.05"/>
<text class="ax yl" x="159.4" y="836.65">Malaysia (91)</text>
<line class="tk" x1="162.2" x2="165.5" y1="845.02" y2="845.02"/>
<text class="ax yl" x="159.4" y="848.62">Viet Nam (96)</text>
<line class="tk" x1="162.2" x2="165.5" y1="856.99" y2="856.99"/>
<text class="ax yl" x="159.4" y="860.59">Venezuela (34)</text>
<line class="tk" x1="162.2" x2="165.5" y1="868.97" y2="868.97"/>
<text class="ax yl" x="159.4" y="872.57">Morocco (31)</text>
<line class="tk" x1="162.2" x2="165.5" y1="880.94" y2="880.94"/>
<text class="ax yl" x="159.4" y="884.54">Sri Lanka (71)</text>
<line class="tk" x1="162.2" x2="165.5" y1="892.91" y2="892.91"/>
<text class="ax yl" x="159.4" y="896.51">Nigeria (58)</text>
<line class="tk" x1="162.2" x2="165.5" y1="904.88" y2="904.88"/>
<text class="ax yl" x="159.4" y="908.48">Kenya (44)</text>
<line class="tk" x1="162.2" x2="165.5" y1="916.86" y2="916.86"/>
<text class="ax yl" x="159.4" y="920.46">Indonesia (110)</text>
<line class="tk" x1="162.2" x2="165.5" y1="928.83" y2="928.83"/>
<text class="ax yl" x="159.4" y="932.43">Egypt (59)</text>
<line class="tk" x1="162.2" x2="165.5" y1="940.80" y2="940.80"/>
<text class="ax yl" x="159.4" y="944.40">Bangladesh (122)</text>
<line class="tk" x1="162.2" x2="165.5" y1="952.78" y2="952.78"/>
<text class="ax yl" x="159.4" y="956.38">Nepal (48)</text>
<line class="tk" x1="162.2" x2="165.5" y1="964.75" y2="964.75"/>
<text class="ax yl" x="159.4" y="968.35">Pakistan (173)</text>
</g><g>
<line class="tk" x1="165.40" x2="165.40" y1="80.25" y2="83.55"/>
<line class="tk" x1="165.40" x2="165.40" y1="971.35" y2="974.65"/>
<text class="ax xl" x="174.25" y="77.6">0</text>
<text class="ax xl" x="174.25" y="985.6">0</text>
<line class="tk" x1="248.54" x2="248.54" y1="80.25" y2="83.55"/>
<line class="tk" x1="248.54" x2="248.54" y1="971.35" y2="974.65"/>
<text class="ax xl" x="249.80" y="77.6">20,000</text>
<text class="ax xl" x="249.80" y="985.6">20,000</text>
<line class="tk" x1="331.68" x2="331.68" y1="80.25" y2="83.55"/>
<line class="tk" x1="331.68" x2="331.68" y1="971.35" y2="974.65"/>
<text class="ax xl" x="332.76" y="77.6">40,000</text>
<text class="ax xl" x="332.76" y="985.6">40,000</text>
<line class="tk" x1="414.82" x2="414.82" y1="80.25" y2="83.55"/>
<line class="tk" x1="414.82" x2="414.82" y1="971.35" y2="974.65"/>
<text class="ax xl" x="415.72" y="77.6">60,000</text>
<text class="ax xl" x="415.72" y="985.6">60,000</text>
<line class="tk" x1="497.96" x2="497.96" y1="80.25" y2="83.55"/>
<line class="tk" x1="497.96" x2="497.96" y1="971.35" y2="974.65"/>
<text class="ax xl" x="498.68" y="77.6">80,000</text>
<text class="ax xl" x="498.68" y="985.6">80,000</text>
<line class="tk" x1="581.10" x2="581.10" y1="80.25" y2="83.55"/>
<line class="tk" x1="581.10" x2="581.10" y1="971.35" y2="974.65"/>
<text class="ax xl" x="581.64" y="77.6">100,000</text>
<text class="ax xl" x="581.64" y="985.6">100,000</text>
<line class="tk" x1="664.24" x2="664.24" y1="80.25" y2="83.55"/>
<line class="tk" x1="664.24" x2="664.24" y1="971.35" y2="974.65"/>
<text class="ax xl" x="664.60" y="77.6">120,000</text>
<text class="ax xl" x="664.60" y="985.6">120,000</text>
<line class="tk" x1="747.38" x2="747.38" y1="80.25" y2="83.55"/>
<line class="tk" x1="747.38" x2="747.38" y1="971.35" y2="974.65"/>
<text class="ax xl" x="747.56" y="77.6">140,000</text>
<text class="ax xl" x="747.56" y="985.6">140,000</text>
<line class="tk" x1="830.52" x2="830.52" y1="80.25" y2="83.55"/>
<line class="tk" x1="830.52" x2="830.52" y1="971.35" y2="974.65"/>
<text class="ax xl" x="830.52" y="77.6">160,000</text>
<text class="ax xl" x="830.52" y="985.6">160,000</text>
<line class="tk" x1="913.66" x2="913.66" y1="80.25" y2="83.55"/>
<line class="tk" x1="913.66" x2="913.66" y1="971.35" y2="974.65"/>
<text class="ax xl" x="913.48" y="77.6">180,000</text>
<text class="ax xl" x="913.48" y="985.6">180,000</text>
<line class="tk" x1="996.80" x2="996.80" y1="80.25" y2="83.55"/>
<line class="tk" x1="996.80" x2="996.80" y1="971.35" y2="974.65"/>
<text class="ax xl" x="996.44" y="77.6">200,000</text>
<text class="ax xl" x="996.44" y="985.6">200,000</text>
</g>
<text x="591.6" y="1014.4" font-size="13.25" fill="#000" text-anchor="middle">Annual Compensation in USD (salary, bonuses, and perks, before taxes and deductions)</text>
<text transform="translate(15.4,527.3) rotate(-90)" font-size="13.25" fill="#000" text-anchor="middle">Country</text>
</svg></body></html>
